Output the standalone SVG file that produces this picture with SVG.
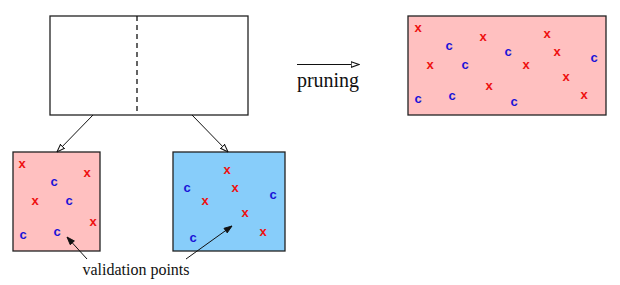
<svg xmlns="http://www.w3.org/2000/svg" width="620" height="285" viewBox="0 0 620 285">
<style>
.box{stroke:#222;stroke-width:1.3}
.pink{fill:#ffc0c0}
.blue{fill:#87cdfa}
.x{fill:#ee1111;font:bold 13px "Liberation Sans",Arial,sans-serif;text-anchor:middle}
.c{fill:#1a12d8;font:bold 13px "Liberation Sans",Arial,sans-serif;text-anchor:middle}
.lbl{font-family:"Liberation Serif","Times New Roman",serif;fill:#111}
.conn{stroke:#111;stroke-width:1;fill:none}
</style>
<defs>
<marker id="ah" viewBox="0 0 10 8" refX="9.5" refY="4" markerWidth="9" markerHeight="7" orient="auto" markerUnits="userSpaceOnUse">
<path d="M0.5,0.8 L9.5,4 L0.5,7.2 Z" fill="#fff" stroke="#111" stroke-width="1.2"/>
</marker>
<marker id="ah2" viewBox="0 0 10 8" refX="9.5" refY="4" markerWidth="10" markerHeight="7" orient="auto" markerUnits="userSpaceOnUse">
<path d="M0.5,0.8 L9.5,4 L0.5,7.2 Z" fill="#111" stroke="#111" stroke-width="1"/>
</marker>
</defs>
<g id="root">
<rect class="box" x="50" y="16" width="198" height="99" fill="#fff"/>
<line x1="137" y1="16" x2="137" y2="115" stroke="#111" stroke-width="1.3" stroke-dasharray="5,4"/>
</g>
<g id="left">
<rect class="box pink" x="13" y="152" width="87" height="99"/>
<text class="x" x="22" y="168">x</text>
<text class="x" x="87" y="177">x</text>
<text class="c" x="54" y="186">c</text>
<text class="x" x="35" y="205">x</text>
<text class="c" x="69" y="205">c</text>
<text class="x" x="93" y="226">x</text>
<text class="c" x="23" y="239">c</text>
<text class="c" x="57" y="236">c</text>
</g>
<g id="rightchild">
<rect class="box blue" x="173" y="152" width="112" height="99"/>
<text class="x" x="227" y="174">x</text>
<text class="c" x="187" y="192">c</text>
<text class="x" x="235" y="192">x</text>
<text class="c" x="273" y="199">c</text>
<text class="x" x="205" y="205">x</text>
<text class="x" x="245" y="217">x</text>
<text class="x" x="263" y="236">x</text>
<text class="c" x="193" y="242">c</text>
</g>
<g id="pruned">
<rect class="box pink" x="408" y="16" width="198" height="99"/>
<text class="x" x="418" y="32">x</text>
<text class="x" x="483" y="41">x</text>
<text class="x" x="547" y="38">x</text>
<text class="c" x="449" y="50">c</text>
<text class="c" x="508" y="56">c</text>
<text class="x" x="557" y="56">x</text>
<text class="c" x="594" y="62">c</text>
<text class="x" x="430" y="69">x</text>
<text class="c" x="465" y="69">c</text>
<text class="x" x="526" y="69">x</text>
<text class="x" x="566" y="81">x</text>
<text class="x" x="489" y="90">x</text>
<text class="x" x="584" y="99">x</text>
<text class="c" x="418" y="103">c</text>
<text class="c" x="452" y="100">c</text>
<text class="c" x="514" y="106">c</text>
</g>
<g id="connectors">
<line class="conn" x1="93" y1="115" x2="57" y2="152" marker-end="url(#ah)"/>
<line class="conn" x1="192" y1="115" x2="228" y2="152" marker-end="url(#ah)"/>
<line class="conn" x1="297" y1="64.5" x2="359" y2="64.5" stroke-width="1.5" marker-end="url(#ah)"/>
<line class="conn" x1="87" y1="259" x2="67" y2="237" marker-end="url(#ah2)"/>
<line class="conn" x1="186" y1="259" x2="232" y2="226" marker-end="url(#ah2)"/>
</g>
<text class="lbl" x="328" y="87" font-size="20" text-anchor="middle">pruning</text>
<text class="lbl" x="136" y="275" font-size="16" text-anchor="middle">validation points</text>
</svg>
